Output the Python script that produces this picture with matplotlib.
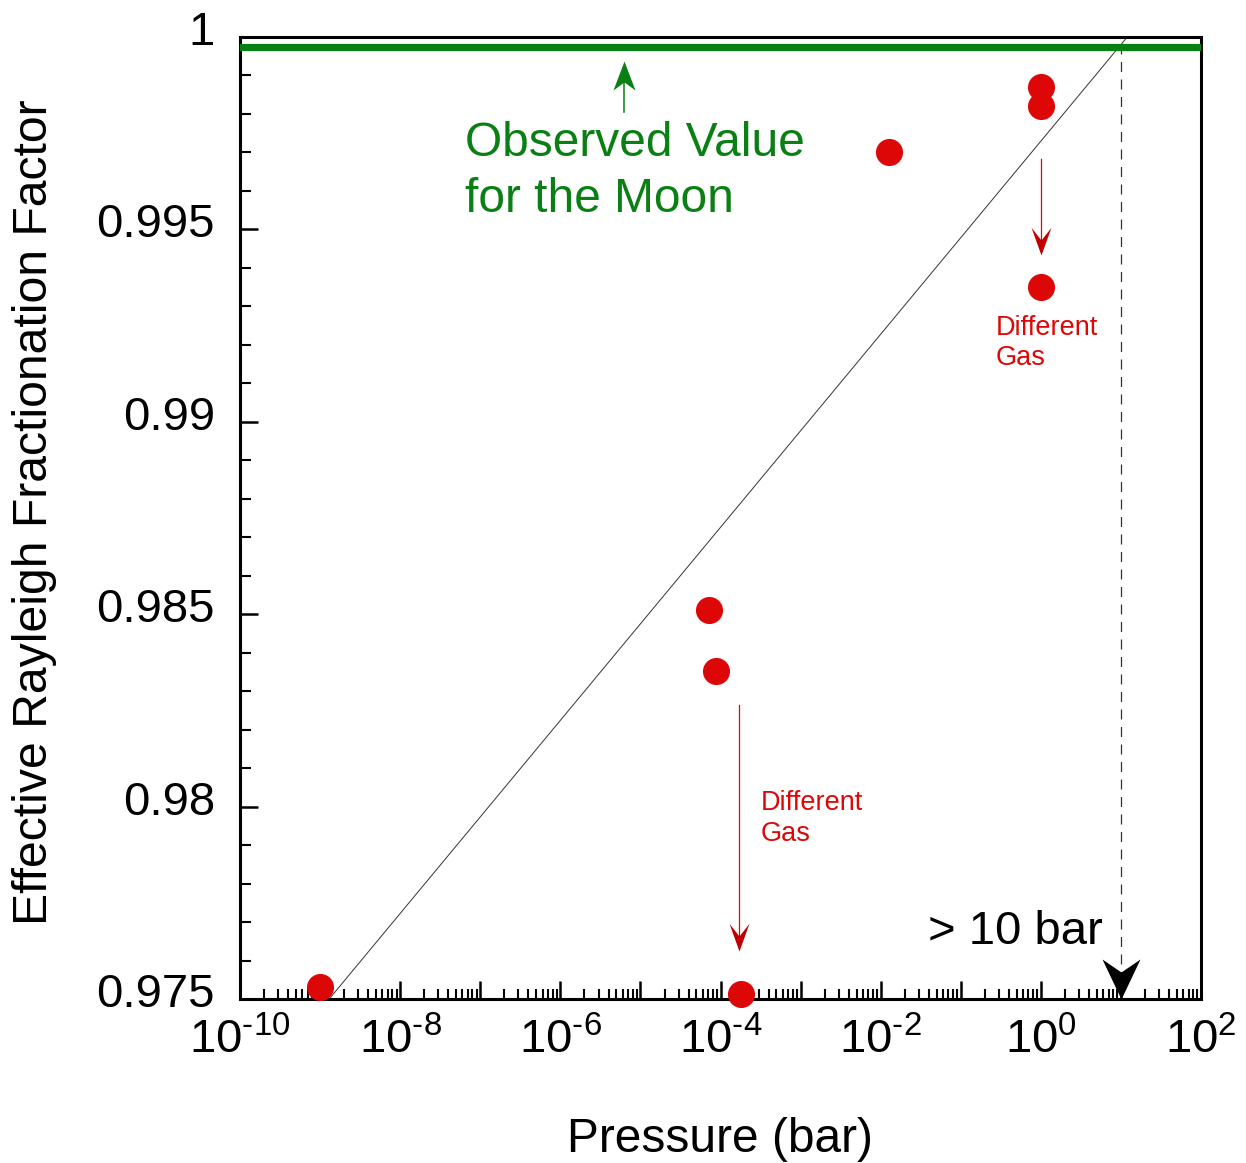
import matplotlib
matplotlib.use('Agg')
import matplotlib.pyplot as plt
import matplotlib.transforms as mtransforms
from matplotlib.path import Path
import numpy as np

plt.rcParams['font.family'] = ['Liberation Sans', 'DejaVu Sans']
plt.rcParams['mathtext.fontset'] = 'custom'
plt.rcParams['mathtext.rm'] = 'Liberation Sans'
plt.rcParams['mathtext.it'] = 'Liberation Sans:italic'

# data
pressure = [1e-9, 7.2e-5, 8.8e-5, 1.8e-4, 0.0126, 1.0, 1.0, 1.0]
factor = [0.97531, 0.98511, 0.98352, 0.97513, 0.99701, 0.99870, 0.99821, 0.99350]

moon_value = 0.99974
trend_x = [1.3e-9, 12.0]
trend_y = [0.975, 1.0]
limit_p = 10.0

x_decades = list(range(-10, 3))
y_ticks = [0.975, 0.98, 0.985, 0.99, 0.995, 1.0]
y_ticklabels = ['0.975', '0.98', '0.985', '0.99', '0.995', '1']

red = '#DD0707'
green = '#0A7F14'


def stealth(length, half_w, notch, up=False):
    # arrow head marker with its tip at the data point
    s = -1 if up else 1
    verts = [(0, 0), (-half_w, s * length), (0, s * notch), (half_w, s * length), (0, 0)]
    codes = [Path.MOVETO, Path.LINETO, Path.LINETO, Path.LINETO, Path.CLOSEPOLY]
    return Path(verts, codes)


fig = plt.figure(figsize=(12.46, 11.63), dpi=100)
ax = fig.add_axes([240 / 1246, 1 - 999 / 1163, 961 / 1246, 962 / 1163])
ax.set_xscale('log')
ax.set_xlim(1e-10, 1e2)
ax.set_ylim(0.975, 1.0)

# observed value line
ax.axhline(moon_value, color=green, lw=5.2, zorder=3)

# trend line
ax.plot(trend_x, trend_y, color='#333333', lw=0.7, zorder=2)

# > 10 bar dashed limit
ax.plot([limit_p, limit_p], [0.975, 1.0], color='#333333', lw=0.9, dashes=(8, 6), zorder=2)
ax.plot(limit_p, 0.975, marker=stealth(1.0, 0.475, 0.675), markersize=57.6,
        color='black', markeredgewidth=0, zorder=5, clip_on=False)

# data points
ax.plot(pressure, factor, 'o', color=red, markersize=19.5, markeredgewidth=0,
        zorder=6, clip_on=False)

# green arrow up
ax.plot([6.2e-6, 6.2e-6], [0.99806, 0.99920], color=green, lw=1.1, zorder=4)
ax.plot(6.2e-6, 0.99938, marker=stealth(1.0, 0.38, 0.72, up=True), markersize=41.8,
        color=green, markeredgewidth=0, zorder=4)

# red arrows down
ax.plot([1.0, 1.0], [0.99683, 0.99450], color=red, lw=0.9, zorder=4)
ax.plot(1.0, 0.99433, marker=stealth(1.0, 0.36, 0.54), markersize=40,
        color='#C00000', markeredgewidth=0, zorder=4)
ax.plot([1.71e-4, 1.71e-4], [0.98264, 0.97645], color=red, lw=0.9, zorder=4)
ax.plot(1.71e-4, 0.97626, marker=stealth(1.0, 0.36, 0.54), markersize=40,
        color='#C00000', markeredgewidth=0, zorder=4)

# annotations (y is the baseline of the last line)
ax.text(6.4e-8, 0.99546, 'Observed Value\nfor the Moon', color=green, fontsize=34.5,
        ha='left', va='baseline', linespacing=1.3)
ax.text(0.274, 0.99147, 'Different\nGas', color=red, fontsize=19.5,
        ha='left', va='baseline', linespacing=1.22)
ax.text(3.2e-4, 0.97911, 'Different\nGas', color=red, fontsize=19.5,
        ha='left', va='baseline', linespacing=1.22)
ax.text(0.039, 0.97642, '> 10 bar', color='black', fontsize=34,
        ha='left', va='baseline')

# ticks
xt = [10.0 ** d for d in x_decades]
xl = [r'$10^{\text{%d}}$' % d if d % 2 == 0 else '' for d in x_decades]
ax.set_xticks(xt)
ax.set_xticklabels(xl)
minor = [m * 10.0 ** d for d in x_decades[:-1] for m in range(2, 10)]
ax.set_xticks(minor, minor=True)
ax.set_yticks(y_ticks)
ax.set_yticklabels(y_ticklabels)
ax.set_yticks(np.arange(0.976, 1.0, 0.001), minor=True)

ax.tick_params(axis='both', which='major', direction='in', width=1.8, labelsize=34)
ax.tick_params(axis='x', which='major', length=13, pad=14)
ax.tick_params(axis='y', which='major', length=13, pad=18)
ax.tick_params(axis='x', which='minor', direction='in', length=7, width=1.5)
ax.tick_params(axis='y', which='minor', direction='in', length=8, width=1.5)
ax.tick_params(top=False, right=False, which='both')

# y labels sit slightly above their ticks in the original
shift = mtransforms.ScaledTranslation(0, 9 / 100, fig.dpi_scale_trans)
for lab in ax.get_yticklabels():
    lab.set_transform(lab.get_transform() + shift)

for sp in ax.spines.values():
    sp.set_linewidth(2.2)

fig.text(35 / 1246, 1 - 512 / 1163, 'Effective Rayleigh Fractionation Factor',
         rotation=90, ha='center', va='center', fontsize=34.7)
fig.text(720 / 1246, 1 - 1139 / 1163, 'Pressure (bar)', ha='center', va='center',
         fontsize=34.5)

fig.savefig('out.png', dpi=100)
